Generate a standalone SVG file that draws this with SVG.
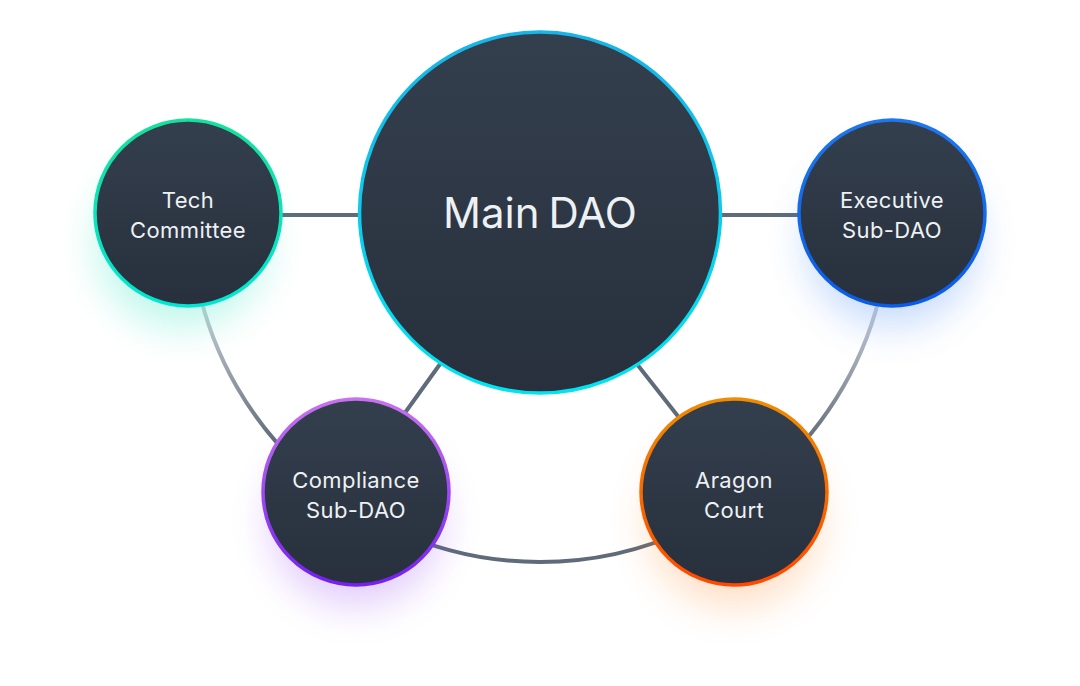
<svg xmlns="http://www.w3.org/2000/svg" width="1080" height="686" viewBox="0 0 1080 686">
<defs>
<linearGradient id="fill" x1="0" y1="0" x2="0" y2="1"><stop offset="0" stop-color="#343f4e"/><stop offset="1" stop-color="#27303c"/></linearGradient>
<linearGradient id="sMain" x1="0" y1="0" x2="0" y2="1"><stop offset="0" stop-color="#17b4e8"/><stop offset="1" stop-color="#00e4f0"/></linearGradient>
<linearGradient id="sTech" x1="0" y1="0" x2="0" y2="1"><stop offset="0" stop-color="#14e29a"/><stop offset="1" stop-color="#00e6d2"/></linearGradient>
<linearGradient id="sExec" x1="0" y1="0" x2="0" y2="1"><stop offset="0" stop-color="#1c78f0"/><stop offset="1" stop-color="#0a5ce8"/></linearGradient>
<linearGradient id="sComp" x1="0" y1="0" x2="0" y2="1"><stop offset="0" stop-color="#c872f0"/><stop offset="1" stop-color="#7420f0"/></linearGradient>
<linearGradient id="sArag" x1="0" y1="0" x2="0" y2="1"><stop offset="0" stop-color="#f08c00"/><stop offset="1" stop-color="#ff4800"/></linearGradient>
<linearGradient id="arcL" gradientUnits="userSpaceOnUse" x1="0" y1="305" x2="0" y2="445"><stop offset="0" stop-color="#cdd2d8"/><stop offset="1" stop-color="#5e6a79"/></linearGradient>
<filter id="blur" x="-60%" y="-60%" width="220%" height="220%"><feGaussianBlur stdDeviation="20"/></filter>
</defs>
<style>
.node{fill:url(#fill);stroke-width:3.5}
.lbl{font-family:Inter,"Noto Sans","Liberation Sans",sans-serif;font-size:22px;letter-spacing:0.4px;fill:#eef1f4;text-anchor:middle}
.big{font-size:42px;letter-spacing:0;word-spacing:-3px}
.ln{stroke:#5f6b7a;stroke-width:4;fill:none;stroke-linecap:round}
.glow{filter:url(#blur);opacity:0.26}
</style>
<rect width="1080" height="686" fill="#ffffff"/>
<g id="connectors">
<line class="ln" x1="270" y1="215" x2="370" y2="215"/>
<line class="ln" x1="710" y1="215" x2="810" y2="215"/>
<line class="ln" x1="448" y1="353" x2="395.5" y2="426"/>
<line class="ln" x1="629.8" y1="355" x2="689.6" y2="431"/>
<path class="ln" style="stroke:url(#arcL)" d="M197.7,284.8 A350,350 0 0 0 305.8,472.1"/>
<path class="ln" d="M392.1,529.2 A350,350 0 0 0 687.9,529.2"/>
<path class="ln" style="stroke:url(#arcL)" d="M882.3,284.8 A350,350 0 0 1 774.2,472.1"/>
</g>
<g id="tech">
<circle class="glow" cx="182" cy="242" r="85" fill="#00e0b0"/>
<circle class="node" cx="188" cy="213" r="93" stroke="url(#sTech)"/>
<text class="lbl" x="188" y="208">Tech</text>
<text class="lbl" x="188" y="238">Committee</text>
</g>
<g id="executive">
<circle class="glow" cx="892" cy="240" r="85" fill="#1a6ef0"/>
<circle class="node" cx="892" cy="213" r="93" stroke="url(#sExec)"/>
<text class="lbl" x="892" y="208">Executive</text>
<text class="lbl" x="892" y="238">Sub-DAO</text>
</g>
<g id="compliance">
<circle class="glow" cx="356" cy="520" r="85" fill="#8a30f0"/>
<circle class="node" cx="356" cy="492" r="93" stroke="url(#sComp)"/>
<text class="lbl" x="356" y="488">Compliance</text>
<text class="lbl" x="356" y="518">Sub-DAO</text>
</g>
<g id="aragon">
<circle class="glow" cx="734" cy="520" r="85" fill="#ff7a10"/>
<circle class="node" cx="734" cy="492" r="93" stroke="url(#sArag)"/>
<text class="lbl" x="734" y="488">Aragon</text>
<text class="lbl" x="734" y="518">Court</text>
</g>
<g id="main">
<circle class="node" cx="540" cy="212.5" r="180.5" stroke="url(#sMain)"/>
<text class="lbl big" x="540" y="228">Main DAO</text>
</g>
</svg>
